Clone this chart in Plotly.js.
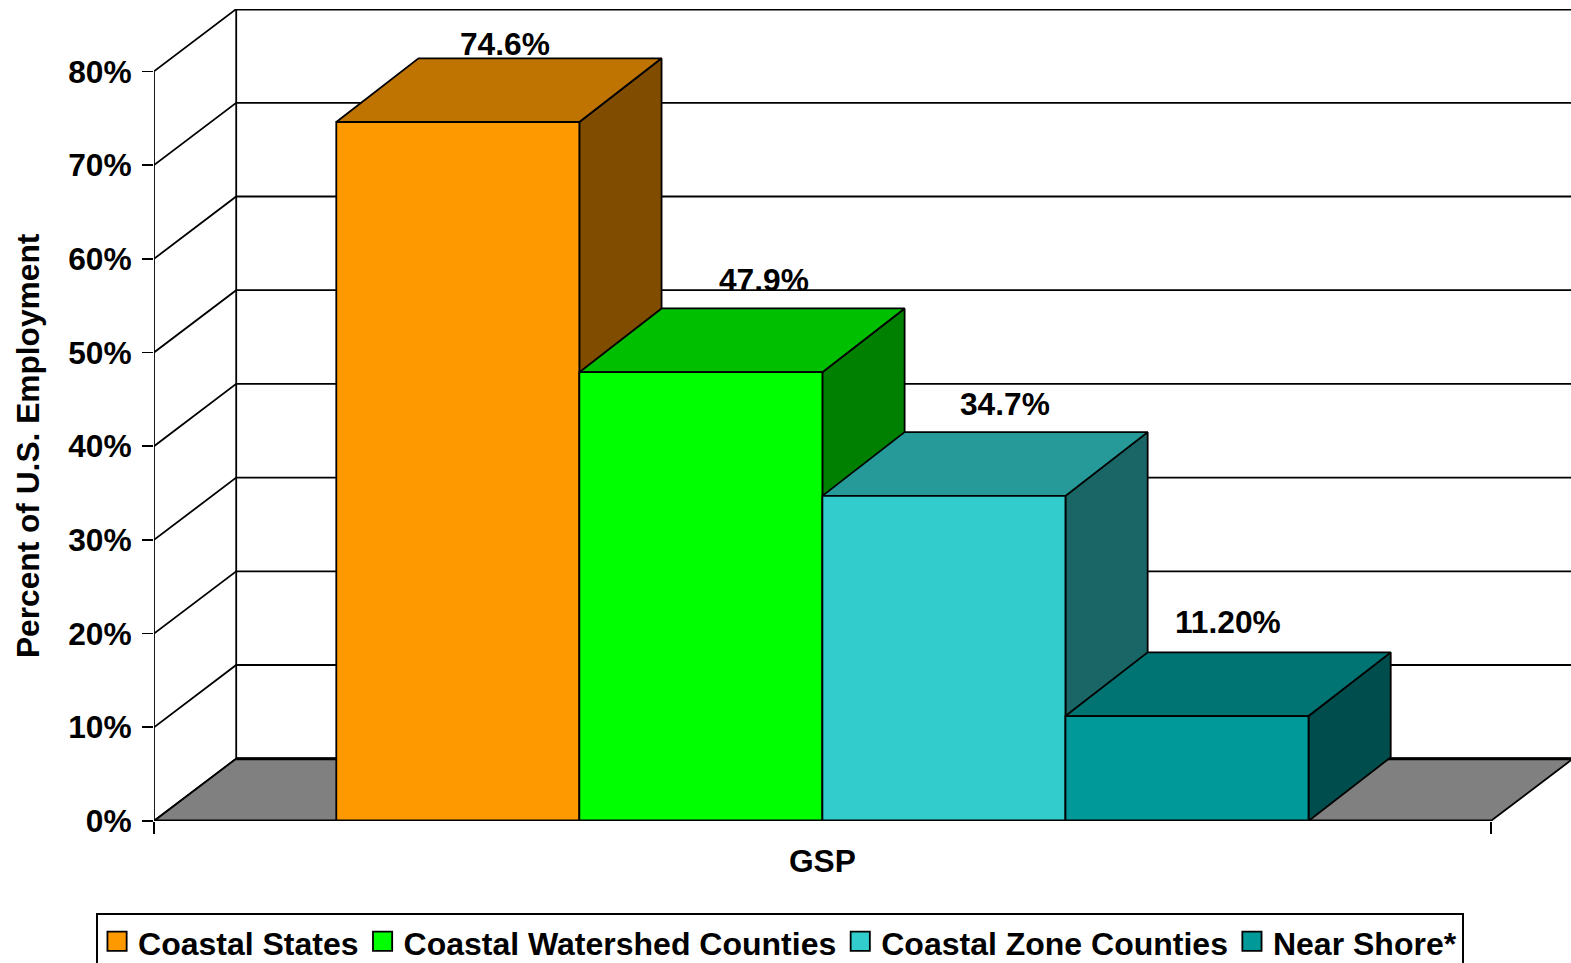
<!DOCTYPE html>
<html><head><meta charset="utf-8">
<script src="https://cdn.plot.ly/plotly-3.0.1.min.js"></script>
<style>html,body{margin:0;padding:0;background:#fff;overflow:hidden}
.legendpoints path{transform:translate(19px,-1px) scale(1.6) !important;vector-effect:non-scaling-stroke}</style></head>
<body><div id="chart" style="width:1571px;height:963px"></div>
<script>
const seriesNames = ["Coastal States","Coastal Watershed Counties","Coastal Zone Counties","Near Shore*"];
const seriesValues = [74.6,47.9,34.7,11.2];
const valueLabels = ["74.6%","47.9%","34.7%","11.20%"];
const categoryLabel = "GSP";
const yTitle = "Percent of U.S. Employment";
const yTickValues = [0,10,20,30,40,50,60,70,80];
const yTickLabels = ["0%","10%","20%","30%","40%","50%","60%","70%","80%"];
const frontColors = ["#FF9900","#00FF00","#33CCCC","#009999"];
const topColors = ["#BF7300","#00BF00","#269999","#007373"];
const sideColors = ["#804D00","#008000","#1A6666","#004D4D"];

const depthX = 0.0615, depthY = 6.65, barDepthY = 6.8, barW = 1/5.5, gapX = 0.75*barW;
const xMax = 1.06, yMax = 86.66, ink = "#000";
const FONT = {family:"Liberation Sans, Arial, sans-serif", size:31.7, color:"#000"};
const lw = 1.8;
function poly(xs,ys,fill,axes){return Object.assign({type:"scatter",mode:"lines",x:xs,y:ys,fill:"toself",fillcolor:fill,
  line:{color:ink,width:lw},showlegend:false,hoverinfo:"skip",cliponaxis:false},axes||{});}
function line(xs,ys,w,axes){return Object.assign({type:"scatter",mode:"lines",x:xs,y:ys,line:{color:ink,width:w||lw},
  showlegend:false,hoverinfo:"skip",cliponaxis:false},axes||{});}

const traces = [];
yTickValues.forEach(v=>{
  traces.push(line([0,depthX,xMax],[v,v+depthY,v+depthY]));
});
traces.push(line([depthX,depthX],[depthY,80+depthY]));
traces.push(line([0,0],[0,80]));
traces.push(line([depthX,xMax],[80+depthY,80+depthY],2.8));
traces.push(poly([0,depthX,1+depthX,1,0],[0,depthY,depthY,0,0],"#808080"));
traces.push(line([depthX,1+depthX],[depthY,depthY],3));
seriesValues.forEach((v,i)=>{
  const x0 = gapX+i*barW, x1 = x0+barW;
  traces.push(poly([x1,x1+depthX,x1+depthX,x1,x1],[0,barDepthY,v+barDepthY,v,0],sideColors[i]));
  traces.push(poly([x0,x1,x1+depthX,x0+depthX,x0],[v,v,v+barDepthY,v+barDepthY,v],topColors[i]));
});
seriesValues.forEach((v,i)=>{
  traces.push({type:"bar",name:seriesNames[i],x:[gapX+(i+0.5)*barW],y:[v],width:[barW],xaxis:"x2",yaxis:"y2",
    marker:{color:frontColors[i],line:{color:ink,width:lw}},hoverinfo:"skip",cliponaxis:false});
});
traces.push(line([0,1],[0,0],3,{xaxis:"x2",yaxis:"y2"}));

const labelShiftX = [47,63,61,41], labelShiftY = [14,28,28,30];
const annotations = seriesValues.map((v,i)=>({xref:"x2",yref:"y2",x:gapX+(i+0.5)*barW,y:v+barDepthY,text:"<b>"+valueLabels[i]+"</b>",
  showarrow:false,xshift:labelShiftX[i],yshift:labelShiftY[i],font:FONT,xanchor:"center",yanchor:"middle"}));
annotations.push({xref:"paper",yref:"paper",x:-0.0889,y:0.4618,text:"<b>"+yTitle+"</b>",textangle:-90,showarrow:false,font:FONT,xanchor:"center",yanchor:"middle"});

const layout = {
  width:1571,height:963,margin:{l:154,r:0,t:9,b:142,pad:0,autoexpand:false},
  paper_bgcolor:"#fff",plot_bgcolor:"#fff",barmode:"overlay",font:FONT,
  xaxis:{range:[0,xMax],showgrid:false,zeroline:false,showline:false,tickmode:"array",tickvals:[0,1],ticktext:["",""],
    ticks:"outside",ticklen:12,tickwidth:1.6,tickcolor:ink},
  yaxis:{range:[0,yMax],showgrid:false,zeroline:false,showline:false,tickmode:"array",tickvals:yTickValues,ticktext:yTickLabels.map(t=>"<b>"+t+"</b>"),
    ticks:"outside",ticklen:11,tickwidth:1.6,tickcolor:ink,tickfont:FONT,ticklabelstandoff:4},
  xaxis2:{range:[0,xMax],overlaying:"x",side:"bottom",showgrid:false,zeroline:false,showline:false,tickmode:"array",tickvals:[0.5],
    ticktext:["<b>"+categoryLabel+"</b>"],ticks:"",tickfont:FONT,ticklabelstandoff:18},
  yaxis2:{range:[0,yMax],overlaying:"y",visible:false},
  annotations,
  showlegend:true,
  legend:{orientation:"h",x:-0.0409,xanchor:"left",y:-0.1133,yanchor:"top",bgcolor:"#fff",bordercolor:ink,borderwidth:2,
    font:Object.assign({},FONT,{size:32,weight:"bold"}),traceorder:"normal",itemwidth:30}
};
Plotly.newPlot("chart",traces,layout,{displayModeBar:false,staticPlot:true});
</script></body></html>
